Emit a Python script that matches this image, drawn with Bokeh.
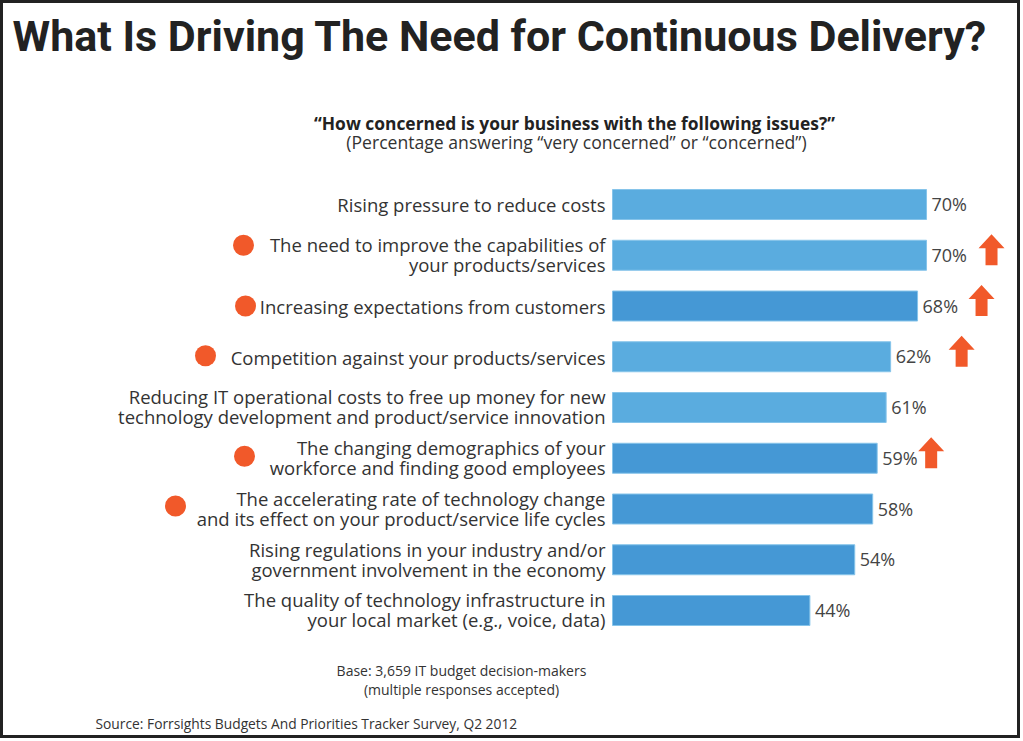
from bokeh.plotting import figure
from bokeh.models import Range1d
from bokeh.embed import file_html
from bokeh.resources import INLINE
from bokeh.core.properties import value

# ---------------- data ----------------
title = "What Is Driving The Need for Continuous Delivery?"
question = "\u201cHow concerned is your business with the following issues?\u201d"
question_note = "(Percentage answering \u201cvery concerned\u201d or \u201cconcerned\u201d)"
base_note = ["Base: 3,659 IT budget decision-makers", "(multiple responses accepted)"]
source_note = "Source: Forrsights Budgets And Priorities Tracker Survey, Q2 2012"

issues = [
    ["Rising pressure to reduce costs"],
    ["The need to improve the capabilities of", "your products/services"],
    ["Increasing expectations from customers"],
    ["Competition against your products/services"],
    ["Reducing IT operational costs to free up money for new",
     "technology development and product/service innovation"],
    ["The changing demographics of your", "workforce and finding good employees"],
    ["The accelerating rate of technology change",
     "and its effect on your product/service life cycles"],
    ["Rising regulations in your industry and/or", "government involvement in the economy"],
    ["The quality of technology infrastructure in", "your local market (e.g., voice, data)"],
]
percent = [70, 70, 68, 62, 61, 59, 58, 54, 44]
highlight = [False, True, True, True, False, True, True, False, False]
rising = [False, True, True, True, False, True, False, False, False]
shade = ["light", "light", "dark", "light", "light", "dark", "dark", "dark", "dark"]

# ---------------- layout / style ----------------
W, H = 1020, 738
SX = 4.486              # px per percent
SY = 50.75              # px per row
BAR0 = 612              # page px of 0 %
ROW0 = 204              # page px of first row centre
BL = 0.36               # baseline correction (fraction of font size)

x_start = -BAR0 / SX
x_end = x_start + W / SX
y_top = -ROW0 / SY
y_bottom = y_top + H / SY

def ax(px):
    return x_start + px / SX

def ay(py, size=0.0):
    return y_top + (py - BL * size) / SY

TEXT = "#333333"
ORANGE = "#f1592a"
COLORS = {"light": "#5aacdf", "dark": "#4598d5"}
FONT = value("Open Sans")

dot_px = {1: 243, 2: 245, 3: 205, 5: 244, 6: 175}
dot_dy = {1: -10, 2: 0, 3: -1, 5: -2, 6: -3}
arrow_gap = {1: 65, 2: 64, 3: 71, 5: 54}

p = figure(width=W, height=H, output_backend="svg", toolbar_location=None,
           x_range=Range1d(x_start, x_end), y_range=Range1d(y_bottom, y_top),
           x_axis_location=None, y_axis_location=None, min_border=0,
           background_fill_color="white", border_fill_color="white")
p.xgrid.visible = False
p.ygrid.visible = False
p.outline_line_color = "#222222"
p.outline_line_width = 5

rows = list(range(len(percent)))

# bars
p.hbar(y=rows, left=0, right=percent, height=30 / SY,
       fill_color=[COLORS[s] for s in shade], line_color="#86c4ea", line_width=1)

# value labels
VS = 18
p.text(x=percent, y=[r + (6 - BL * VS) / SY for r in rows], text=[f"{v}%" for v in percent],
       x_offset=5, text_font=FONT, text_font_size=f"{VS}px", text_color="#444444",
       text_align="left", text_baseline="alphabetic")

# issue labels
LS = 18.5
lx, ly, lt = [], [], []
for r, lines in enumerate(issues):
    offs = [7] if len(lines) == 1 else [-4, 16]
    for line, o in zip(lines, offs):
        lx.append(0)
        ly.append(r + (o - BL * LS) / SY)
        lt.append(line)
p.text(x=lx, y=ly, text=lt, x_offset=-7, text_font=FONT, text_font_size=f"{LS}px",
       text_color=TEXT, text_align="right", text_baseline="alphabetic")

# orange dots
dx_, dy_ = [], []
for r in rows:
    if highlight[r]:
        dx_.append(ax(dot_px[r]))
        dy_.append(r + dot_dy[r] / SY)
p.scatter(x=dx_, y=dy_, size=21, marker="circle", fill_color=ORANGE, line_color=None)

# up arrows
shape = [(0, -21), (13, -7), (6, -7), (6, 10), (-6, 10), (-6, -7), (-13, -7)]
xs, ys = [], []
for r in rows:
    if rising[r]:
        cx = percent[r] + arrow_gap[r] / SX
        xs.append([cx + sx / SX for sx, sy in shape])
        ys.append([r + sy / SY for sx, sy in shape])
p.patches(xs=xs, ys=ys, fill_color=ORANGE, line_color=None)

# titles and notes
p.text(x=[ax(12)], y=[ay(51, 43)], text=[title], text_font=value("Roboto"),
       text_font_style="bold", text_font_size="43px", text_color="#222222",
       text_align="left", text_baseline="alphabetic")
p.text(x=[ax(574)], y=[ay(129, 17.4)], text=[question], text_font=FONT,
       text_font_style="bold", text_font_size="17.4px", text_color="#222222",
       text_align="center", text_baseline="alphabetic")
p.text(x=[ax(576)], y=[ay(148, 17.6)], text=[question_note], text_font=FONT,
       text_font_size="17.6px", text_color=TEXT, text_align="center",
       text_baseline="alphabetic")
p.text(x=[ax(461), ax(461)], y=[ay(675, 14), ay(694, 14)], text=base_note, text_font=FONT,
       text_font_size="14px", text_color=TEXT, text_align="center",
       text_baseline="alphabetic")
p.text(x=[ax(95)], y=[ay(728, 13.8)], text=[source_note], text_font=FONT,
       text_font_size="13.8px", text_color=TEXT, text_align="left",
       text_baseline="alphabetic")

open("out.html", "w").write(file_html(p, INLINE))
